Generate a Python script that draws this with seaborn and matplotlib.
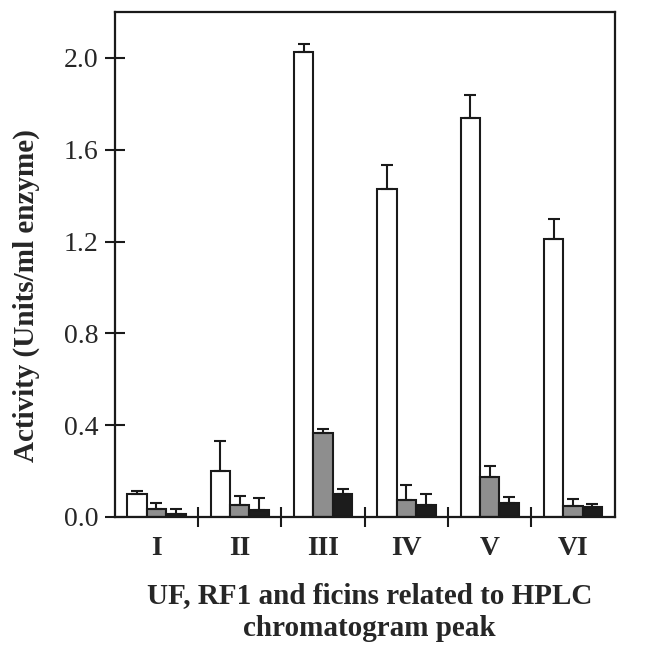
import matplotlib
matplotlib.use("Agg")
import matplotlib.pyplot as plt
import seaborn as sns
import pandas as pd
from matplotlib.ticker import FixedLocator

peaks = ['I', 'II', 'III', 'IV', 'V', 'VI']
series = ['UF', 'RF1', 'Ficins']

uf = [0.10, 0.20, 2.025, 1.43, 1.74, 1.21]
uf_err = [0.015, 0.13, 0.035, 0.105, 0.10, 0.09]
rf1 = [0.035, 0.054, 0.366, 0.074, 0.174, 0.049]
rf1_err = [0.025, 0.039, 0.017, 0.066, 0.046, 0.031]
ficin = [0.014, 0.032, 0.10, 0.052, 0.061, 0.043]
ficin_err = [0.021, 0.051, 0.022, 0.048, 0.027, 0.015]

colors = ['#ffffff', '#8e8e8e', '#1c1c1c']

rows = []
for name, vals in zip(series, [uf, rf1, ficin]):
    for p, v in zip(peaks, vals):
        rows.append({'Peak': p, 'Series': name, 'Activity': v})
df = pd.DataFrame(rows)

sns.set_style("ticks")
plt.rcParams['font.family'] = ['Liberation Serif', 'DejaVu Serif']

fig = plt.figure(figsize=(6.45, 6.54), dpi=100)
ax = fig.add_axes([0.178, 0.2095, 0.775, 0.7722])

sns.barplot(data=df, x='Peak', y='Activity', hue='Series', order=peaks,
            hue_order=series, palette=colors, width=0.7, errorbar=None,
            edgecolor='#1a1a1a', linewidth=1.5, ax=ax, legend=False)

# upward-only error bars at each bar's top
for cont, errs in zip(ax.containers, [uf_err, rf1_err, ficin_err]):
    for bar, e in zip(cont, errs):
        xc = bar.get_x() + bar.get_width() / 2
        h = bar.get_height()
        ax.errorbar(xc, h, yerr=[[0], [e]], fmt='none', ecolor='#1a1a1a',
                    elinewidth=1.5, capsize=4.5, capthick=1.5)

ax.set_xlim(-0.5, 5.5)
ax.set_ylim(0, 2.2)
ax.set_yticks([0.0, 0.4, 0.8, 1.2, 1.6, 2.0])
ax.set_yticklabels(['0.0', '0.4', '0.8', '1.2', '1.6', '2.0'], fontsize=20)
ax.set_xticks(range(len(peaks)))
ax.set_xticklabels(peaks, fontsize=20, fontweight='bold')
ax.xaxis.set_minor_locator(FixedLocator([0.5, 1.5, 2.5, 3.5, 4.5]))
ax.tick_params(axis='x', which='major', length=0, pad=14)
ax.tick_params(axis='x', which='minor', direction='inout', length=14, width=1.5, color='#1a1a1a')
ax.tick_params(axis='y', direction='inout', length=14, width=1.5, color='#1a1a1a', pad=5)

for s in ax.spines.values():
    s.set_linewidth(1.6)
    s.set_color('#1a1a1a')

ax.set_ylabel('Activity (Units/ml enzyme)', fontsize=21, fontweight='bold')
ax.yaxis.set_label_coords(-0.15, 0.4376)
ax.set_xlabel('UF, RF1 and ficins related to HPLC\nchromatogram peak', fontsize=21,
              fontweight='bold', linespacing=1.28)
ax.xaxis.set_label_coords(0.51, -0.128)

fig.savefig('out.png', dpi=100)
